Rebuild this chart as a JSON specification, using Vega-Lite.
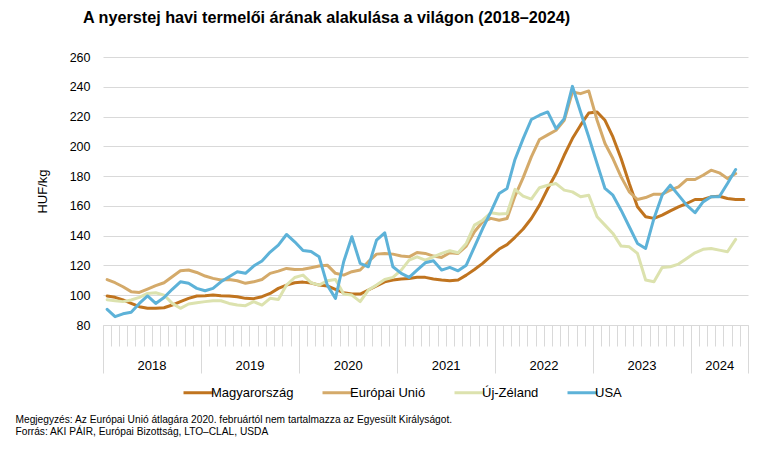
{
  "$schema": "https://vega.github.io/schema/vega-lite/v6.json",
  "width": 645,
  "height": 268,
  "autosize": "none",
  "padding": {"left": 103, "top": 57, "right": 27, "bottom": 131},
  "background": "white",
  "config": {"font": "Liberation Sans", "view": {"stroke": null}},
  "title": {"text": "A nyerstej havi termelői árának alakulása a világon (2018–2024)", "anchor": "start", "frame": "group", "dx": -20, "offset": 25, "fontSize": 16.2, "fontWeight": "bold", "color": "#000"},
  "data": {"values": [
    {"d":"2018-01","hu":99.5,"eu":110.5,"nz":97,"us":90.5},
    {"d":"2018-02","hu":98.6,"eu":108.4,"nz":96.3,"us":85.6},
    {"d":"2018-03","hu":96.8,"eu":105.7,"nz":95.7,"us":87.5},
    {"d":"2018-04","hu":94.5,"eu":102.4,"nz":96.8,"us":88.5},
    {"d":"2018-05","hu":92.3,"eu":101.9,"nz":98.6,"us":94.5},
    {"d":"2018-06","hu":91.2,"eu":104.1,"nz":101.2,"us":99.5},
    {"d":"2018-07","hu":91.2,"eu":106.4,"nz":101.7,"us":94.5},
    {"d":"2018-08","hu":91.6,"eu":108.4,"nz":100.1,"us":98.5},
    {"d":"2018-09","hu":93.4,"eu":112.4,"nz":94.5,"us":104},
    {"d":"2018-10","hu":95.7,"eu":116.4,"nz":91.2,"us":109},
    {"d":"2018-11","hu":97.9,"eu":116.9,"nz":94.1,"us":108},
    {"d":"2018-12","hu":99.5,"eu":115.3,"nz":95,"us":104.6},
    {"d":"2019-01","hu":99.7,"eu":112.9,"nz":95.7,"us":103},
    {"d":"2019-02","hu":100.1,"eu":111.3,"nz":96.3,"us":104.6},
    {"d":"2019-03","hu":99.7,"eu":110.2,"nz":96.3,"us":109},
    {"d":"2019-04","hu":99.5,"eu":110.6,"nz":94.5,"us":112.4},
    {"d":"2019-05","hu":99,"eu":109.7,"nz":93.4,"us":115.8},
    {"d":"2019-06","hu":97.9,"eu":108,"nz":93,"us":114.7},
    {"d":"2019-07","hu":97.7,"eu":109,"nz":95.7,"us":119.6},
    {"d":"2019-08","hu":99,"eu":110.6,"nz":93.4,"us":123},
    {"d":"2019-09","hu":101.2,"eu":114.7,"nz":97.9,"us":129},
    {"d":"2019-10","hu":104.6,"eu":116.2,"nz":97.2,"us":133.7},
    {"d":"2019-11","hu":106.8,"eu":118,"nz":106.8,"us":140.8},
    {"d":"2019-12","hu":108.4,"eu":117.3,"nz":111.9,"us":135.9},
    {"d":"2020-01","hu":108.8,"eu":117.5,"nz":113.5,"us":130},
    {"d":"2020-02","hu":108.2,"eu":118.5,"nz":108.4,"us":129.3},
    {"d":"2020-03","hu":106.8,"eu":119.6,"nz":106.8,"us":125.8},
    {"d":"2020-04","hu":106.2,"eu":120.2,"nz":109.7,"us":106.8},
    {"d":"2020-05","hu":103.9,"eu":114.7,"nz":110.6,"us":97.9},
    {"d":"2020-06","hu":101.7,"eu":113.5,"nz":100.8,"us":122.5},
    {"d":"2020-07","hu":100.8,"eu":115.8,"nz":100.1,"us":139.3},
    {"d":"2020-08","hu":100.8,"eu":116.9,"nz":95.7,"us":121.4},
    {"d":"2020-09","hu":103.5,"eu":122.5,"nz":103.5,"us":119.1},
    {"d":"2020-10","hu":106.2,"eu":127.6,"nz":106.8,"us":137},
    {"d":"2020-11","hu":109,"eu":128.1,"nz":110.6,"us":141.9},
    {"d":"2020-12","hu":110.2,"eu":127.6,"nz":112,"us":119.1},
    {"d":"2021-01","hu":110.9,"eu":126.3,"nz":116.9,"us":114.7},
    {"d":"2021-02","hu":111.3,"eu":125.8,"nz":123.6,"us":112},
    {"d":"2021-03","hu":112,"eu":128.7,"nz":125.8,"us":116.9},
    {"d":"2021-04","hu":112,"eu":128.1,"nz":123.6,"us":121.8},
    {"d":"2021-05","hu":110.9,"eu":126.3,"nz":125.8,"us":123.2},
    {"d":"2021-06","hu":110.2,"eu":125.4,"nz":128.1,"us":116.9},
    {"d":"2021-07","hu":109.7,"eu":128.5,"nz":129.9,"us":118.7},
    {"d":"2021-08","hu":110.2,"eu":128.1,"nz":128.5,"us":116.4},
    {"d":"2021-09","hu":113.5,"eu":133,"nz":134.8,"us":120.2},
    {"d":"2021-10","hu":117.3,"eu":142.6,"nz":147.1,"us":132.5},
    {"d":"2021-11","hu":121.4,"eu":149.3,"nz":150.4,"us":144.8},
    {"d":"2021-12","hu":126.3,"eu":151.6,"nz":155.4,"us":156},
    {"d":"2022-01","hu":131,"eu":150.4,"nz":154.5,"us":168.3},
    {"d":"2022-02","hu":134,"eu":151.5,"nz":154.9,"us":171.7},
    {"d":"2022-03","hu":138.9,"eu":166.6,"nz":171.1,"us":191.2},
    {"d":"2022-04","hu":144.5,"eu":179,"nz":166.6,"us":205.2},
    {"d":"2022-05","hu":151.5,"eu":192.9,"nz":164.6,"us":218},
    {"d":"2022-06","hu":160.5,"eu":204.6,"nz":172.2,"us":220.9},
    {"d":"2022-07","hu":171.5,"eu":207.7,"nz":173.9,"us":223.1},
    {"d":"2022-08","hu":181.7,"eu":210.8,"nz":175,"us":211.9},
    {"d":"2022-09","hu":194,"eu":217.5,"nz":170.6,"us":218.6},
    {"d":"2022-10","hu":205.2,"eu":236.5,"nz":169.4,"us":240.3},
    {"d":"2022-11","hu":214.2,"eu":235.4,"nz":166.1,"us":223.1},
    {"d":"2022-12","hu":222.4,"eu":237.2,"nz":167.2,"us":206.3},
    {"d":"2023-01","hu":223.1,"eu":217.5,"nz":152.7,"us":188.4},
    {"d":"2023-02","hu":217.5,"eu":201.9,"nz":147.1,"us":171.7},
    {"d":"2023-03","hu":206.3,"eu":191.8,"nz":141.5,"us":167.2},
    {"d":"2023-04","hu":191.8,"eu":179.5,"nz":133,"us":157.1},
    {"d":"2023-05","hu":175,"eu":169.4,"nz":132.5,"us":146},
    {"d":"2023-06","hu":159.4,"eu":164.3,"nz":128.1,"us":134.8},
    {"d":"2023-07","hu":152.7,"eu":165.6,"nz":110.2,"us":131.4},
    {"d":"2023-08","hu":151.6,"eu":167.9,"nz":109.1,"us":151.6},
    {"d":"2023-09","hu":153.8,"eu":167.9,"nz":118.7,"us":167.2},
    {"d":"2023-10","hu":156.7,"eu":170.6,"nz":119.1,"us":173.9},
    {"d":"2023-11","hu":159.4,"eu":172.8,"nz":120.9,"us":167.2},
    {"d":"2023-12","hu":161.6,"eu":177.7,"nz":124.7,"us":160.5},
    {"d":"2024-01","hu":164.3,"eu":177.7,"nz":128.5,"us":155.4},
    {"d":"2024-02","hu":164.3,"eu":180.6,"nz":130.8,"us":162.7},
    {"d":"2024-03","hu":166.1,"eu":184,"nz":131.4,"us":166.1},
    {"d":"2024-04","hu":166.5,"eu":182.2,"nz":130.3,"us":166.1},
    {"d":"2024-05","hu":165,"eu":178.4,"nz":129.2,"us":175},
    {"d":"2024-06","hu":164.3,"eu":181.7,"nz":137.5,"us":184.4},
    {"d":"2024-07","hu":164.3,"eu":null,"nz":null,"us":null}
  ]},
  "transform": [{"fold": ["hu", "eu", "nz", "us"], "as": ["series", "value"]}],
  "mark": {"type": "line", "strokeWidth": 3, "strokeCap": "round", "strokeJoin": "round"},
  "encoding": {
    "x": {
      "field": "d", "type": "temporal", "timeUnit": "utcyearmonth", "bandPosition": 0.5,
      "scale": {"type": "utc", "domain": [{"year": 2018, "month": 1, "date": 1, "utc": true}, {"year": 2024, "month": 8, "date": 1, "utc": true}], "nice": false},
      "axis": {
        "tickCount": {"interval": "month", "step": 1},
        "grid": false,
        "domainColor": "#d9d9d9",
        "tickColor": "#d9d9d9",
        "tickSize": {"condition": {"test": "utcmonth(datum.value) === 0 || datum.value >= utc(2024, 7, 1)", "value": 48}, "value": 21},
        "labelExpr": "((utcmonth(datum.value) == 6 && utcyear(datum.value) < 2024) || (utcyear(datum.value) == 2024 && utcmonth(datum.value) == 3)) ? '' + utcyear(datum.value) : ''",
        "labelOverlap": false,
        "labelFlush": false,
        "labelBound": false,
        "labelFontSize": 13,
        "labelColor": "#000",
        "labelPadding": 13,
        "labelOffset": {"condition": {"test": "utcyear(datum.value) == 2024", "value": 4}, "value": 0},
        "title": ["Megjegyzés: Az Európai Unió átlagára 2020. februártól nem tartalmazza az Egyesült Királyságot.", "Forrás: AKI PÁIR, Európai Bizottság, LTO–CLAL, USDA"],
        "titleX": -88,
        "titleY": 89,
        "titleAlign": "left",
        "titleAnchor": "start",
        "titleBaseline": "top",
        "titleFontSize": 10.2,
        "titleFontWeight": "normal",
        "titleLineHeight": 12,
        "titleColor": "#000"
      }
    },
    "y": {
      "field": "value", "type": "quantitative",
      "scale": {"domain": [80, 260], "nice": false, "zero": false},
      "axis": {
        "values": [80, 100, 120, 140, 160, 180, 200, 220, 240, 260],
        "domain": false, "ticks": false,
        "gridColor": "#d9d9d9",
        "labelFontSize": 12.5, "labelColor": "#000", "labelPadding": 13,
        "title": "HUF/kg", "titleFontSize": 13, "titleFontWeight": "normal", "titleColor": "#000", "titlePadding": 20
      }
    },
    "color": {
      "field": "series", "type": "nominal",
      "scale": {"domain": ["hu", "eu", "nz", "us"], "range": ["#C0741F", "#D4AA6A", "#DCE2AE", "#5DB2D8"]},
      "legend": {
        "orient": "none", "legendX": 79, "legendY": 319, "direction": "horizontal", "title": null,
        "symbolType": "stroke", "symbolSize": 900, "symbolStrokeWidth": 3,
        "labelFontSize": 13, "labelColor": "#000", "labelOffset": -4, "columnPadding": 22,
        "labelExpr": "({'hu': 'Magyarország', 'eu': 'Európai Unió', 'nz': 'Új-Zéland', 'us': 'USA'})[datum.label]"
      }
    }
  }
}
